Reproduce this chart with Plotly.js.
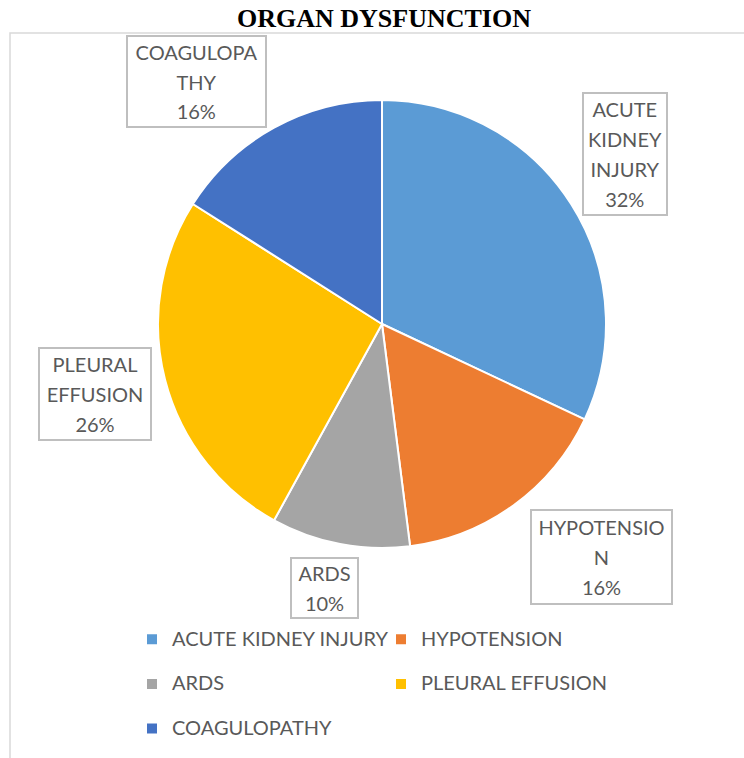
<!DOCTYPE html>
<html><head><meta charset="utf-8">
<script src="https://cdn.plot.ly/plotly-3.0.1.min.js"></script>
<style>html,body{margin:0;padding:0;background:#fff}</style>
</head><body><div id="chart" style="width:744px;height:758px"></div>
<script>
const categories = ['ACUTE KIDNEY INJURY','HYPOTENSION','ARDS','PLEURAL EFFUSION','COAGULOPATHY'];
const values = [32,16,10,26,16];
const colors = ['#5B9BD5','#ED7D31','#A5A5A5','#FFC000','#4472C4'];
const labelLines = [['ACUTE','KIDNEY','INJURY'],['HYPOTENSIO','N'],['ARDS'],['PLEURAL','EFFUSION'],['COAGULOPA','THY']];

const W = 744, H = 758, MR = 20;
const PW = W - MR;
const px = x => x / PW, py = y => 1 - y / H;
// label box layout in pixels: centre x, centre y, width, height
const labelBoxes = [[625,154,86,124],[601.5,557,143,96],[324.5,588,69,62],[95,394,114,94],[196.5,81.5,141,93]];

const total = values.reduce((a, b) => a + b, 0);
const wrap = (s, style) => `<span style="${style}">${s}</span>`;

const annotations = categories.map((c, i) => {
  const pct = Math.round(values[i] / total * 100) + '%';
  const lines = labelLines[i].concat([pct]).map(s => wrap(s, 'font-size:20px')).join('<br>');
  const b = labelBoxes[i];
  return {xref:'paper', yref:'paper', x:px(b[0]), y:py(b[1]), xanchor:'center', yanchor:'middle',
    text:lines, showarrow:false, width:b[2]-4, height:b[3]-4, borderpad:0,
    bordercolor:'#BFBFBF', borderwidth:2, bgcolor:'#ffffff',
    font:{family:'Lato', size:23, color:'#595959'}, align:'center', valign:'middle'};
});

const trace = {
  type:'pie', values:values, labels:categories.map(c => wrap(c, 'font-size:20px;baseline-shift:6px')),
  marker:{colors:colors, line:{color:'#ffffff', width:2}},
  sort:false, direction:'clockwise', rotation:0, textinfo:'none', hoverinfo:'none',
  domain:{x:[px(158), px(606)], y:[py(548), py(100)]}
};

const layout = {
  width:W, height:H, margin:{l:0, r:MR, t:0, b:0},
  paper_bgcolor:'#ffffff',
  title:{text:'<b>ORGAN DYSFUNCTION</b>', font:{family:'Liberation Serif', size:26, color:'#000000'},
    x:px(384), xanchor:'center', xref:'paper', y:py(18), yanchor:'middle', yref:'paper'},
  showlegend:true,
  legend:{orientation:'h', x:px(132), xanchor:'left', y:py(612), yanchor:'top',
    entrywidth:204, entrywidthmode:'pixels', font:{family:'Lato', size:32, color:'#595959'},
    bgcolor:'rgba(0,0,0,0)', traceorder:'normal'},
  annotations:annotations,
  shapes:[{type:'path', xref:'paper', yref:'paper',
    path:`M ${px(10)} ${py(760)} L ${px(10)} ${py(33)} L ${px(746)} ${py(33)}`,
    line:{color:'#D9D9D9', width:1.5}}]
};

Plotly.newPlot('chart', [trace], layout, {staticPlot:true});
</script></body></html>
